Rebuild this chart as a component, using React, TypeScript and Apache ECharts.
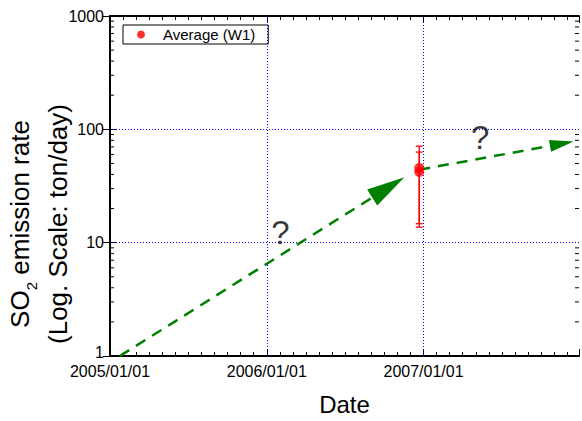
import React, { useEffect, useRef } from 'react';
import * as echarts from 'echarts';

// ---- data ----
const xStartDate = '2005-01-01';
const xEndDate = '2007-12-29';
const xTickLabels = ['2005/01/01', '2006/01/01', '2007/01/01'];
const xGridDates = ['2006-01-01', '2007-01-01'];
const yMin = 1;
const yMax = 1000;
const yGridValues = [10, 100];
const yMinorTicks = [2, 3, 4, 5, 6, 7, 8, 9, 20, 30, 40, 50, 60, 70, 80, 90, 200, 300, 400, 500, 600, 700, 800, 900];

const averageName = 'Average (W1)';
const averageDates = ['2006-12-22', '2006-12-22'];
const averageValues = [45.7, 42.2];
const averageLow = [14.7, 13.7];
const averageHigh = [71.1, 63.0];

const trendBeforeDates = ['2005-01-24', '2006-10-11'];
const trendBeforeValues = [1, 30.7];
const trendAfterDates = ['2006-12-22', '2007-11-19'];
const trendAfterValues = [44, 74.7];

const questionDates = ['2006-02-02', '2007-05-13'];
const questionValues = [12.4, 84.1];
const questionText = '?';

// ---- helpers ----
const DAY = 86400000;
const [by, bm, bd] = xStartDate.split('-').map(Number);
const BASE = Date.UTC(by, bm - 1, bd);
function dayOf(s: string): number {
  const [y, m, d] = s.replace(/\//g, '-').split('-').map(Number);
  return Math.round((Date.UTC(y, m - 1, d) - BASE) / DAY);
}
const xMin = 0;
const xMax = dayOf(xEndDate);
const YEAR_INTERVAL = 365;

const FONT = '"Liberation Sans", Arial, sans-serif';
const GREEN = '#008000';
const RED = '#ff0000';
const GRID_BLUE = '#0000ff';

export default function App() {
  const ref = useRef<HTMLDivElement>(null);
  useEffect(() => {
    if (!ref.current) return;
    const chart = echarts.init(ref.current, undefined, { renderer: 'svg' });

    const trendLine = (dates: string[], values: number[], arrowSize: number[]) => {
      const pts = dates.map((d, i) => [dayOf(d), values[i]]);
      return {
        type: 'line',
        data: pts,
        symbol: 'none',
        silent: true,
        color: GREEN,
        lineStyle: { opacity: 0 },
        z: 3,
        markLine: {
          silent: true,
          animation: false,
          symbol: ['none', 'triangle'],
          label: { show: false },
          lineStyle: { color: GREEN, width: 2.5, type: [11, 8], opacity: 1 },
          itemStyle: { color: GREEN },
          data: [[
            { coord: pts[0], symbol: 'none', symbolSize: 0 },
            { coord: pts[1], symbol: 'triangle', symbolSize: arrowSize },
          ]],
        },
      };
    };

    const axisLineStyle = { color: '#000', width: 2 };
    const tickStyle = { color: '#000', width: 1 };

    const option: any = {
      animation: false,
      backgroundColor: '#fff',
      textStyle: { fontFamily: FONT },
      grid: { left: 110, top: 16, width: 470, height: 343, containLabel: false },
      legend: {
        data: [averageName],
        left: 123,
        top: 25,
        orient: 'vertical',
        selectedMode: false,
        icon: 'circle',
        itemWidth: 8,
        itemHeight: 8,
        padding: [2, 13, 2, 14],
        borderColor: '#000',
        borderWidth: 1,
        borderRadius: 0,
        backgroundColor: '#fff',
        textStyle: {
          fontSize: 15, color: '#000', fontFamily: FONT, lineHeight: 15,
          padding: [0, 0, 0, 13],
        },
      },
      xAxis: [
        {
          type: 'value', position: 'bottom', min: xMin, max: xMax, interval: YEAR_INTERVAL, z: 2,
          name: 'Date', nameLocation: 'middle', nameGap: 36,
          nameTextStyle: { fontSize: 24, color: '#000', fontFamily: FONT },
          axisLine: { show: true, lineStyle: axisLineStyle },
          axisTick: { show: true, inside: true, length: 7, lineStyle: tickStyle },
          minorTick: { show: true, splitNumber: 12, length: 4, lineStyle: tickStyle },
          axisLabel: {
            show: true, fontSize: 16, color: '#000', margin: 8, lineHeight: 14, fontFamily: FONT,
            formatter: (v: number) => {
              const lab = xTickLabels.find((l) => dayOf(l) === Math.round(v));
              return lab || '';
            },
          },
          splitLine: { show: false },
          minorSplitLine: { show: false },
        },
        {
          type: 'value', position: 'top', min: xMin, max: xMax, interval: YEAR_INTERVAL, z: 2,
          axisLine: { show: true, lineStyle: axisLineStyle },
          axisTick: { show: true, inside: true, length: 7, lineStyle: tickStyle },
          minorTick: { show: true, splitNumber: 12, length: 4, lineStyle: tickStyle },
          axisLabel: { show: false },
          splitLine: { show: false },
          minorSplitLine: { show: false },
        },
      ],
      yAxis: [
        {
          type: 'log', logBase: 10, position: 'left', min: yMin, max: yMax, z: 2,
          axisLine: { show: true, lineStyle: axisLineStyle },
          axisTick: { show: true, inside: true, length: 7, lineStyle: tickStyle },
          axisLabel: {
            show: true, fontSize: 16, color: '#000', margin: 6, lineHeight: 14, fontFamily: FONT,
            formatter: (v: number) => {
              const r = Math.round(v);
              return r === yMin ? `{low|${r}}` : String(r);
            },
            rich: { low: { fontSize: 16, lineHeight: 14, padding: [0, 0, 8, 0], fontFamily: FONT, color: '#000' } },
          },
          splitLine: { show: false },
        },
        {
          type: 'log', logBase: 10, position: 'right', min: yMin, max: yMax, z: 2,
          axisLine: { show: true, lineStyle: axisLineStyle },
          axisTick: { show: true, inside: true, length: 7, lineStyle: tickStyle },
          axisLabel: { show: false },
          splitLine: { show: false },
        },
      ],
      graphic: [
        {
          type: 'text',
          x: 39,
          y: 224,
          rotation: Math.PI / 2,
          silent: true,
          style: {
            text: '{a|SO}{s|2}{a| emission rate}\n{a|(Log. Scale: ton/day)}',
            rich: {
              a: { fontSize: 26, lineHeight: 38, fontFamily: FONT, fill: '#000' },
              s: { fontSize: 15, lineHeight: 15, verticalAlign: 'bottom', fontFamily: FONT, fill: '#000' },
            },
            align: 'center',
            verticalAlign: 'middle',
            fill: '#000',
          },
        },
      ],
      series: [
        {
          type: 'line',
          name: 'grid',
          data: [[xMin, yMin]],
          symbol: 'none',
          silent: true,
          lineStyle: { opacity: 0 },
          z: 1,
          markLine: {
            silent: true,
            animation: false,
            symbol: ['none', 'none'],
            label: { show: false },
            lineStyle: { color: GRID_BLUE, width: 1, type: [1, 2], opacity: 1 },
            data: [
              ...xGridDates.map((d) => ({ xAxis: dayOf(d) })),
              ...yGridValues.map((v) => ({ yAxis: v })),
            ],
          },
        },
        {
          type: 'custom',
          name: 'minorY',
          xAxisIndex: 0,
          yAxisIndex: 0,
          silent: true,
          z: 5,
          clip: false,
          data: yMinorTicks.map((v) => [xMin, v]),
          renderItem: (params: any, api: any) => {
            const y = api.coord([xMin, api.value(1)])[1];
            const cs = params.coordSys;
            const st = { stroke: '#000', lineWidth: 1 };
            return {
              type: 'group',
              children: [
                { type: 'line', shape: { x1: cs.x, y1: y, x2: cs.x + 4, y2: y }, style: st },
                { type: 'line', shape: { x1: cs.x + cs.width - 4, y1: y, x2: cs.x + cs.width, y2: y }, style: st },
              ],
            };
          },
        },
        trendLine(trendBeforeDates, trendBeforeValues, [19, 38]),
        trendLine(trendAfterDates, trendAfterValues, [12, 24]),
        {
          type: 'custom',
          name: 'errorBars',
          silent: true,
          z: 6,
          data: averageDates.map((d, i) => [dayOf(d), averageValues[i], averageLow[i], averageHigh[i]]),
          renderItem: (params: any, api: any) => {
            const x = api.value(0);
            const lo = api.coord([x, api.value(2)]);
            const hi = api.coord([x, api.value(3)]);
            const hw = 3.5;
            const st = { stroke: RED, lineWidth: 1.3 };
            return {
              type: 'group',
              children: [
                { type: 'line', shape: { x1: lo[0], y1: lo[1], x2: hi[0], y2: hi[1] }, style: st },
                { type: 'line', shape: { x1: lo[0] - hw, y1: lo[1], x2: lo[0] + hw, y2: lo[1] }, style: st },
                { type: 'line', shape: { x1: hi[0] - hw, y1: hi[1], x2: hi[0] + hw, y2: hi[1] }, style: st },
              ],
            };
          },
        },
        {
          type: 'scatter',
          name: averageName,
          symbol: 'circle',
          symbolSize: 10,
          itemStyle: { color: RED },
          z: 7,
          silent: true,
          data: averageDates.map((d, i) => [dayOf(d), averageValues[i]]),
        },
        {
          type: 'scatter',
          name: 'question',
          symbolSize: 1,
          itemStyle: { color: 'rgba(0,0,0,0)' },
          silent: true,
          z: 8,
          label: {
            show: true,
            position: 'inside',
            formatter: () => questionText,
            fontSize: 33,
            color: '#000',
            fontFamily: FONT,
          },
          data: questionDates.map((d, i) => [dayOf(d), questionValues[i]]),
        },
      ],
    };
    chart.setOption(option);
    return () => chart.dispose();
  }, []);
  return (
    <div
      ref={ref}
      style={{ position: 'absolute', left: 0, top: 0, width: 582, height: 421 }}
    />
  );
}
